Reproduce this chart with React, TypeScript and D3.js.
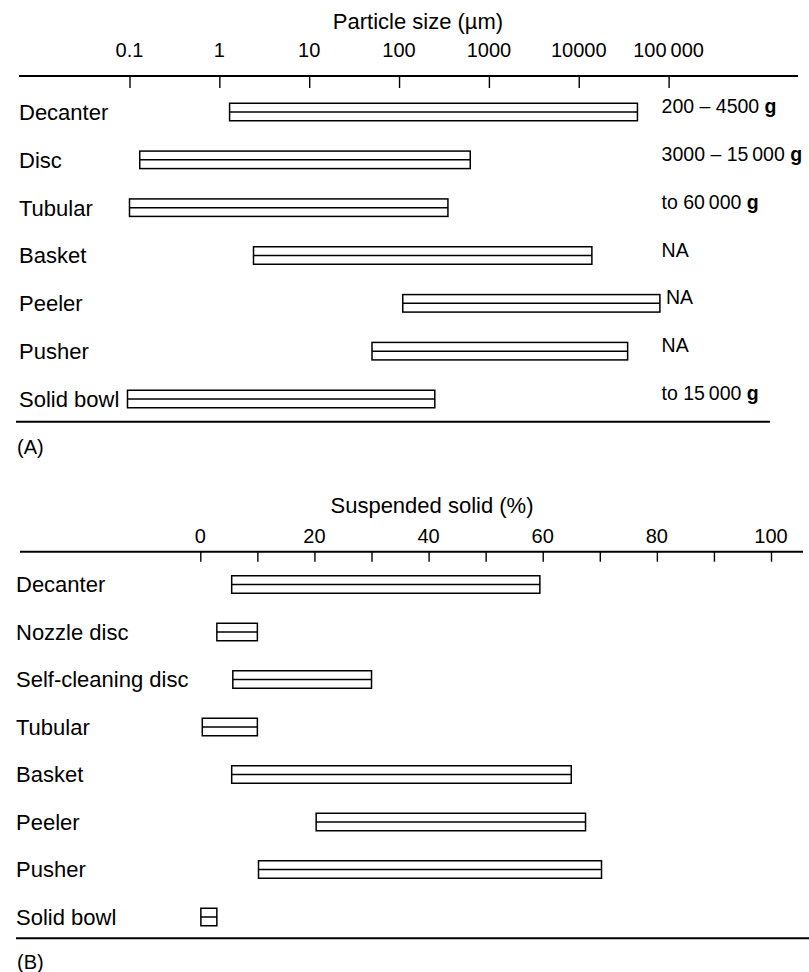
import { useEffect, useRef } from 'react'
import * as d3 from 'd3'

// panel A: particle size ranges (µm, log scale)
const sizeCategories = ['Decanter', 'Disc', 'Tubular', 'Basket', 'Peeler', 'Pusher', 'Solid bowl']
const sizeMin = [1.3, 0.13, 0.1, 2.4, 110, 50, 0.095]
const sizeMax = [45000, 620, 350, 14000, 80000, 35000, 250]
const sizeNotes = ['200 – 4500', '3000 – 15\u2009000', 'to 60\u2009000', 'NA', 'NA', 'NA', 'to 15\u2009000']
const sizeNoteUnits = ['g', 'g', 'g', '', '', '', 'g']
const sizeTicks = [0.1, 1, 10, 100, 1000, 10000, 100000]
const sizeTickLabels = ['0.1', '1', '10', '100', '1000', '10000', '100\u2009000']

// panel B: suspended solid ranges (%)
const solidCategories = ['Decanter', 'Nozzle disc', 'Self-cleaning disc', 'Tubular', 'Basket', 'Peeler', 'Pusher', 'Solid bowl']
const solidMin = [5.5, 2.9, 5.7, 0.35, 5.5, 20.3, 10.2, 0.1]
const solidMax = [59.5, 10, 30, 10, 65, 67.5, 70.3, 2.9]
const solidTicks = [0, 10, 20, 30, 40, 50, 60, 70, 80, 90, 100]
const solidTickLabels = [0, 20, 40, 60, 80, 100]

const W = 809, H = 972
const FONT = '"Liberation Sans", Arial, Helvetica, sans-serif'
const barH = 17.5

const drawBars = (g, cats, mins, maxs, x, y) => {
  const rows = g.append('g').selectAll('g').data(cats).enter().append('g')
  rows.append('rect')
    .attr('x', (d, i) => x(mins[i]))
    .attr('y', d => y(d) - barH / 2)
    .attr('width', (d, i) => x(maxs[i]) - x(mins[i]))
    .attr('height', barH)
    .attr('fill', '#fff')
    .attr('stroke', '#000')
    .attr('stroke-width', 1.5)
  rows.append('line')
    .attr('x1', (d, i) => x(mins[i]))
    .attr('x2', (d, i) => x(maxs[i]))
    .attr('y1', d => y(d))
    .attr('y2', d => y(d))
    .attr('stroke', '#000')
    .attr('stroke-width', 1.5)
}

const drawLabels = (g, cats, mins, x, y, left) => {
  g.append('g').selectAll('text').data(cats).enter().append('text')
    .attr('y', d => y(d) + 22 * 0.36)
    .attr('font-size', 22)
    .text(d => d)
    .each(function (d, i) {
      // keep label clear of a bar that starts close to the left edge
      const w = this.getComputedTextLength()
      d3.select(this).attr('x', Math.min(left, x(mins[i]) - 8 - w))
    })
}

const App = () => {
  const ref = useRef(null)

  const drawChart = () => {
    const svg = d3.select(ref.current)
    svg.selectAll('*').remove()
    svg.attr('font-family', FONT).attr('fill', '#000')

    // ---------- panel A ----------
    const axisYA = 76
    const xA = d3.scaleLog().domain([0.1, 100000]).range([129.5, 668.6])
    const yA = d3.scalePoint().domain(sizeCategories).range([112, 399])

    svg.append('text')
      .attr('x', 418).attr('y', 21 + 22 * 0.36)
      .attr('text-anchor', 'middle').attr('font-size', 22)
      .text('Particle size (µm)')

    svg.append('g').selectAll('text').data(sizeTicks).enter().append('text')
      .attr('x', d => xA(d)).attr('y', 50 + 20 * 0.36)
      .attr('text-anchor', 'middle').attr('font-size', 20)
      .text((d, i) => sizeTickLabels[i])

    svg.append('g')
      .attr('transform', `translate(0,${axisYA})`)
      .call(d3.axisBottom(xA).tickValues(sizeTicks).tickSize(12).tickFormat(() => ''))
      .call(g => g.select('.domain').remove())
      .call(g => g.selectAll('line').attr('stroke-width', 1.4))

    svg.append('line')
      .attr('x1', 19).attr('x2', 798).attr('y1', axisYA).attr('y2', axisYA)
      .attr('stroke', '#000').attr('stroke-width', 2)

    drawBars(svg, sizeCategories, sizeMin, sizeMax, xA, yA)
    drawLabels(svg, sizeCategories, sizeMin, xA, yA, 19)

    const notes = svg.append('g').selectAll('text').data(sizeCategories).enter().append('text')
      .attr('x', (d, i) => Math.max(xA(100000) - 7, xA(sizeMax[i]) + 6))
      .attr('y', d => yA(d) - 6 + 19.5 * 0.36)
      .attr('font-size', 19.5)
    notes.append('tspan').text((d, i) => sizeNotes[i])
    notes.append('tspan').attr('font-weight', 'bold')
      .text((d, i) => (sizeNoteUnits[i] ? ' ' + sizeNoteUnits[i] : ''))

    svg.append('line')
      .attr('x1', 16).attr('x2', 770).attr('y1', 421.7).attr('y2', 421.7)
      .attr('stroke', '#000').attr('stroke-width', 2)
    svg.append('text')
      .attr('x', 17).attr('y', 447 + 20 * 0.36).attr('font-size', 20)
      .text('(A)')

    // ---------- panel B ----------
    const axisYB = 551.7
    const xB = d3.scaleLinear().domain([0, 100]).range([200.3, 771])
    const yB = d3.scalePoint().domain(solidCategories).range([584.5, 917])

    svg.append('text')
      .attr('x', 432).attr('y', 505 + 22 * 0.36)
      .attr('text-anchor', 'middle').attr('font-size', 22)
      .text('Suspended solid (%)')

    svg.append('g').selectAll('text').data(solidTickLabels).enter().append('text')
      .attr('x', d => xB(d)).attr('y', 536 + 20 * 0.36)
      .attr('text-anchor', 'middle').attr('font-size', 20)
      .text(d => d)

    svg.append('g')
      .attr('transform', `translate(0,${axisYB})`)
      .call(d3.axisBottom(xB).tickValues(solidTicks).tickSize(10).tickFormat(() => ''))
      .call(g => g.select('.domain').remove())
      .call(g => g.selectAll('line').attr('stroke-width', 1.4))

    svg.append('line')
      .attr('x1', 20).attr('x2', 803).attr('y1', axisYB).attr('y2', axisYB)
      .attr('stroke', '#000').attr('stroke-width', 2)

    drawBars(svg, solidCategories, solidMin, solidMax, xB, yB)
    drawLabels(svg, solidCategories, solidMin, xB, yB, 16)

    svg.append('line')
      .attr('x1', 16).attr('x2', 809).attr('y1', 938.3).attr('y2', 938.3)
      .attr('stroke', '#000').attr('stroke-width', 2)
    svg.append('text')
      .attr('x', 17).attr('y', 962 + 20 * 0.36).attr('font-size', 20)
      .text('(B)')
  }

  useEffect(() => {
    drawChart()
  }, [])

  return (
    <svg
      ref={ref}
      width={W}
      height={H}
      style={{ position: 'absolute', left: 0, top: 0, background: '#fff' }}
    />
  )
}

export default App
